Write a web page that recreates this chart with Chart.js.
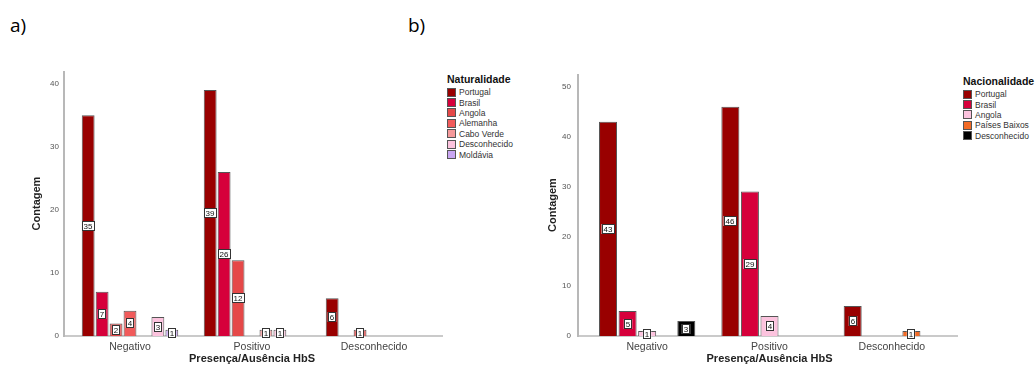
<!DOCTYPE html>
<html><head><meta charset="utf-8">
<script src="https://cdn.jsdelivr.net/npm/chart.js@4.4.0/dist/chart.umd.min.js"></script>
<style>
body{margin:0;background:#fff;}
#wrap{position:relative;width:1035px;height:372px;overflow:hidden;font-family:'Liberation Sans',Arial,sans-serif;}
.panel{position:absolute;top:12px;font-family:'Open Sans',sans-serif;font-size:19px;color:#000;}
canvas{position:absolute;top:0;}
.legend{position:absolute;color:#333;font-size:8.5px;}
.legend .t{font-weight:bold;font-size:10.5px;color:#111;height:14px;line-height:12px;}
.legend .r{display:flex;align-items:center;height:10.4px;white-space:nowrap;}
.legend .s{width:9px;height:9px;border:1px solid #555;margin-right:3px;box-sizing:border-box;flex:none;}
</style></head>
<body>
<div id="wrap">
  <div class="panel" style="left:10px">a)</div>
  <div class="panel" style="left:408px">b)</div>
  <canvas id="cA" width="445" height="372" style="left:0px"></canvas>
  <canvas id="cB" width="440" height="372" style="left:520px"></canvas>
  <div class="legend" id="legA" style="left:447px;top:73px"></div>
  <div class="legend" id="legB" style="left:963px;top:75px"></div>
</div>
<script>
// ---- data ----
const categories = ['Negativo', 'Positivo', 'Desconhecido'];

const natLabels = ['Portugal', 'Brasil', 'Angola', 'Alemanha', 'Cabo Verde', 'Desconhecido', 'Moldávia'];
const natPortugal     = [35, 39, 6];
const natBrasil       = [7, 26, null];
const natAngola       = [2, 12, 1];
const natAlemanha     = [4, null, null];
const natCaboVerde    = [null, 1, null];
const natDesconhecido = [3, 1, null];
const natMoldavia     = [1, null, null];

const nacLabels = ['Portugal', 'Brasil', 'Angola', 'Países Baixos', 'Desconhecido'];
const nacPortugal     = [43, 46, 6];
const nacBrasil       = [5, 29, null];
const nacAngola       = [1, 4, null];
const nacPaisesBaixos = [null, null, 1];
const nacDesconhecido = [3, null, null];

const natColors = ['#990000', '#d6003b', '#e54848', '#f15b5b', '#f5999a', '#fcc3de', '#c9a6f2'];
const nacColors = ['#990000', '#d6003b', '#fcc3de', '#f26a25', '#000000'];

Chart.defaults.font.family = "'Liberation Sans', Arial, sans-serif";
Chart.defaults.color = '#444';

const axisLines = {
  id: 'axisLines',
  beforeDatasetsDraw(chart, args, o) {
    const {ctx, chartArea: a} = chart;
    const ax = a.left - o.gapLeft;
    ctx.save();
    ctx.strokeStyle = '#b8b8b8';
    ctx.lineWidth = 2;
    ctx.beginPath();
    ctx.moveTo(ax, a.top);
    ctx.lineTo(ax, a.bottom + 1);
    ctx.stroke();
    ctx.lineWidth = 1.5;
    ctx.beginPath();
    ctx.moveTo(ax, a.bottom);
    ctx.lineTo(a.right + o.extRight, a.bottom);
    ctx.stroke();
    ctx.restore();
  }
};

const labelBoxes = {
  id: 'labelBoxes',
  afterDatasetsDraw(chart) {
    const ctx = chart.ctx;
    ctx.save();
    ctx.font = "8px 'Liberation Sans', Arial, sans-serif";
    ctx.textAlign = 'center';
    ctx.textBaseline = 'middle';
    chart.data.datasets.forEach((ds, i) => {
      const meta = chart.getDatasetMeta(i);
      meta.data.forEach((bar, j) => {
        const v = ds.data[j];
        if (v === null || v === undefined) return;
        const txt = String(v);
        const w = ctx.measureText(txt).width + 4;
        const h = 10;
        const cx = Math.round(bar.x);
        const cy = Math.round((bar.y + bar.base) / 2);
        ctx.fillStyle = '#fff';
        ctx.fillRect(cx - w / 2, cy - h / 2, w, h);
        ctx.strokeStyle = '#333';
        ctx.lineWidth = 1;
        ctx.strokeRect(Math.round(cx - w / 2) + 0.5, cy - h / 2 + 0.5, Math.round(w) - 1, h - 1);
        ctx.fillStyle = '#111';
        ctx.fillText(txt, cx, cy + 0.5);
      });
    });
    ctx.restore();
  }
};

function makeDatasets(labels, series, colors) {
  return labels.map((l, i) => ({
    label: l,
    data: series[i],
    backgroundColor: colors[i],
    borderColor: '#555',
    borderWidth: 1,
    categoryPercentage: 0.8,
    barPercentage: 0.92
  }));
}

function makeChart(id, datasets, yMax, opts) {
  return new Chart(document.getElementById(id), {
    type: 'bar',
    data: { labels: categories, datasets },
    plugins: [axisLines, labelBoxes],
    options: {
      responsive: false,
      animation: false,
      layout: { padding: { left: 0, right: opts.padRight, top: opts.top, bottom: 0 } },
      plugins: {
        legend: { display: false }, tooltip: { enabled: false },
        axisLines: { gapLeft: opts.gapLeft, extRight: opts.extRight }
      },
      scales: {
        x: {
          grid: { display: false, drawTicks: false },
          border: { display: false },
          ticks: { padding: 5, color: '#444', font: { size: 10.5 } },
          title: { display: true, text: 'Presença/Ausência HbS', color: '#222',
                   font: { size: 11, weight: 'bold' }, padding: { top: 0, bottom: 6.4 } },
          afterFit(s) { s.height = 36; }
        },
        y: {
          min: 0, max: yMax,
          grid: { display: false, drawTicks: false },
          border: { display: false },
          ticks: { stepSize: 10, padding: opts.tickPad, color: '#555', font: { size: 8 } },
          afterBuildTicks(s) { s.ticks = s.ticks.filter(t => t.value % 10 === 0); },
          title: { display: true, text: 'Contagem', color: '#222',
                   font: { size: 11, weight: 'bold' }, padding: { top: opts.titlePad, bottom: 0 } },
          afterFit(s) { s.width = opts.areaLeft; }
        }
      }
    }
  });
}

makeChart('cA',
  makeDatasets(natLabels, [natPortugal, natBrasil, natAngola, natAlemanha, natCaboVerde, natDesconhecido, natMoldavia], natColors),
  42, { top: 71, areaLeft: 69, gapLeft: 5, extRight: 8, padRight: 10, titlePad: 30.4, tickPad: 10 });

makeChart('cB',
  makeDatasets(nacLabels, [nacPortugal, nacBrasil, nacAngola, nacPaisesBaixos, nacDesconhecido], nacColors),
  52.6, { top: 74, areaLeft: 66, gapLeft: 8, extRight: 5, padRight: 7, titlePad: 26.4, tickPad: 15 });

function buildLegend(elId, title, labels, colors) {
  const el = document.getElementById(elId);
  const t = document.createElement('div');
  t.className = 't';
  t.textContent = title;
  el.appendChild(t);
  labels.forEach((l, i) => {
    const r = document.createElement('div');
    r.className = 'r';
    const s = document.createElement('span');
    s.className = 's';
    s.style.background = colors[i];
    const tx = document.createElement('span');
    tx.textContent = l;
    r.appendChild(s);
    r.appendChild(tx);
    el.appendChild(r);
  });
}
buildLegend('legA', 'Naturalidade', natLabels, natColors);
buildLegend('legB', 'Nacionalidade', nacLabels, nacColors);
</script>
</body></html>
